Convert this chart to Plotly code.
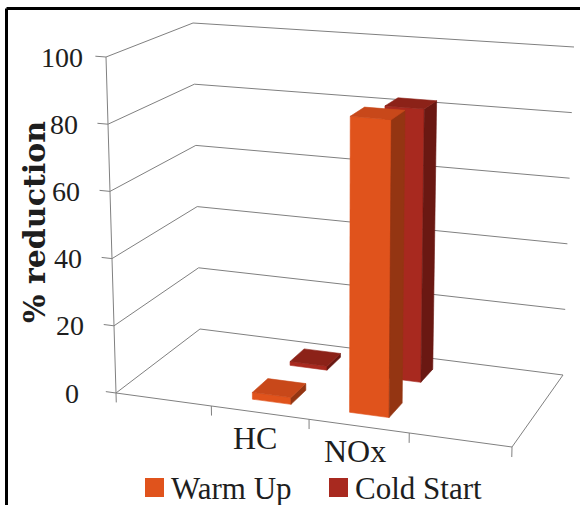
import numpy as np
import plotly.graph_objects as go

# ---------------- data ----------------
categories = ["", "HC", "NOx", ""]
series_names = ["Warm Up", "Cold Start"]
warm_up = [None, 2.0, 86.0, None]
cold_start = [None, 1.2, 82.5, None]
value_ticks = [0, 20, 40, 60, 80, 100]
value_max = 100

# ---------------- styles ----------------
W, H = 580, 505
GRID = "#808080"
TXT = "#1e1e1e"
SERIF = "Liberation Serif"
face_colors = {
    "Warm Up": {"front": "#E0531C", "side": "#943512", "top": "#C8481A"},
    "Cold Start": {"front": "#A8291F", "side": "#6A1812", "top": "#8C2218"},
}

# ---------------- 3D -> screen projection (chart "scales") ----------------
FLOOR = {(0, 0): (116, 393), (1, 0): (512, 447), (1, 1): (563, 375), (0, 1): (200, 329)}
VERT = {(0, 0): (-10, -336), (0, 1): (-7, -306), (1, 1): (11, -328), (1, 0): (8, -358)}

A, b = [], []
for (u, w), (X, Y) in FLOOR.items():
    A.append([u, w, 1, 0, 0, 0, -X * u, -X * w]); b.append(X)
    A.append([0, 0, 0, u, w, 1, -Y * u, -Y * w]); b.append(Y)
hvec = np.linalg.solve(np.array(A, float), np.array(b, float))
HM = np.append(hvec, 1.0).reshape(3, 3)


def floor_pt(u, w):
    p = HM @ np.array([u, w, 1.0])
    return p[:2] / p[2]


def vert_vec(u, w):
    v00, v10 = np.array(VERT[(0, 0)]), np.array(VERT[(1, 0)])
    v01, v11 = np.array(VERT[(0, 1)]), np.array(VERT[(1, 1)])
    return (1 - u) * (1 - w) * v00 + u * (1 - w) * v10 + (1 - u) * w * v01 + u * w * v11


def project(u, w, v):
    return floor_pt(u, w) + (v / value_max) * vert_vec(u, w)


def seg_trace(segs, color=GRID, width=1):
    xs, ys = [], []
    for p0, p1 in segs:
        xs += [p0[0], p1[0], None]
        ys += [p0[1], p1[1], None]
    return go.Scatter(x=xs, y=ys, mode="lines", line=dict(color=color, width=width),
                      hoverinfo="skip", showlegend=False)


fig = go.Figure()

segs = []
for t in value_ticks:
    segs.append((project(0, 0, t), project(0, 1, t)))
    segs.append((project(0, 1, t), project(1, 1, t)))
segs.append((project(0, 0, 0), project(0, 0, value_max)))
for t in value_ticks:
    segs.append((project(-0.027, 0, t), project(0, 0, t)))
segs.append((project(0, 0, 0), project(1, 0, 0)))
segs.append((project(1, 0, 0), project(1, 1, 0)))
n_cat = len(categories)
for i in range(n_cat + 1):
    u = i / n_cat
    segs.append((project(u, 0, 0), project(u, 0, -2.8)))
fig.add_trace(seg_trace(segs))

# ---------------- bars ----------------
gap_width = 1.5
gap_depth = 1.5
n_ser = len(series_names)
bar_half_u = 0.5 * (1 / n_cat) / (1 + gap_width)
bar_half_w = 0.5 * (1 / n_ser) / (1 + gap_depth)

series_values = {"Warm Up": warm_up, "Cold Start": cold_start}


def poly(pts, color):
    xs = [p[0] for p in pts] + [pts[0][0]]
    ys = [p[1] for p in pts] + [pts[0][1]]
    return go.Scatter(x=xs, y=ys, mode="lines", fill="toself", fillcolor=color,
                      line=dict(color=color, width=0.6), hoverinfo="skip", showlegend=False)


for s in reversed(range(n_ser)):
    name = series_names[s]
    vals = series_values[name]
    cols = face_colors[name]
    wc = (s + 0.5) / n_ser
    w0, w1 = wc - bar_half_w, wc + bar_half_w
    for i, val in enumerate(vals):
        if val is None:
            continue
        uc = (i + 0.5) / n_cat
        u0, u1 = uc - bar_half_u, uc + bar_half_u
        front = [project(u0, w0, 0), project(u1, w0, 0), project(u1, w0, val), project(u0, w0, val)]
        side = [project(u1, w0, 0), project(u1, w1, 0), project(u1, w1, val), project(u1, w0, val)]
        top = [project(u0, w0, val), project(u1, w0, val), project(u1, w1, val), project(u0, w1, val)]
        fig.add_trace(poly(front, cols["front"]))
        fig.add_trace(poly(side, cols["side"]))
        fig.add_trace(poly(top, cols["top"]))

# ---------------- text ----------------
ann = []
for t in value_ticks:
    p = project(0, 0, t)
    ann.append(dict(x=p[0] - 44, y=p[1], text=str(t), showarrow=False, xanchor="center",
                    yanchor="middle", font=dict(family=SERIF, size=28, color=TXT)))
for i, c in enumerate(categories):
    if not c:
        continue
    p = project((i + 0.5) / n_cat, -0.12, 0)
    ann.append(dict(x=p[0], y=p[1], text=c, showarrow=False, xanchor="center", yanchor="middle",
                    xshift=5, yshift=-16, font=dict(family=SERIF, size=32, color=TXT)))
ann.append(dict(x=34, y=222, text="<b>% reduction</b>", textangle=-90, showarrow=False,
                xanchor="center", yanchor="middle",
                font=dict(family="DejaVu Serif", size=30, color=TXT)))

shapes = []
legend_x = {"Warm Up": 145, "Cold Start": 329}
for name in series_names:
    x0 = legend_x[name]
    shapes.append(dict(type="rect", xref="x", yref="y", x0=x0, x1=x0 + 19, y0=478, y1=497,
                       fillcolor=face_colors[name]["front"], line=dict(width=0)))
    ann.append(dict(x=x0 + 24, y=488, text=name, showarrow=False, xanchor="left", yanchor="middle",
                    font=dict(family=SERIF, size=31, color=TXT)))

shapes.append(dict(type="line", xref="x", yref="y", x0=6.5, x1=W + 5, y0=8.5, y1=8.5,
                   line=dict(color="black", width=3)))
shapes.append(dict(type="line", xref="x", yref="y", x0=6.5, x1=6.5, y0=8.5, y1=H + 5,
                   line=dict(color="black", width=3)))

fig.update_layout(
    width=W, height=H, margin=dict(l=0, r=0, t=0, b=0),
    paper_bgcolor="white", plot_bgcolor="white",
    xaxis=dict(range=[0, W], visible=False, fixedrange=True),
    yaxis=dict(range=[H, 0], visible=False, fixedrange=True),
    annotations=ann, shapes=shapes, showlegend=False,
)

fig.write_html("out.html", config={"displayModeBar": False, "staticPlot": True},
               post_script="document.body.style.margin='0';document.body.style.overflow='hidden';")
